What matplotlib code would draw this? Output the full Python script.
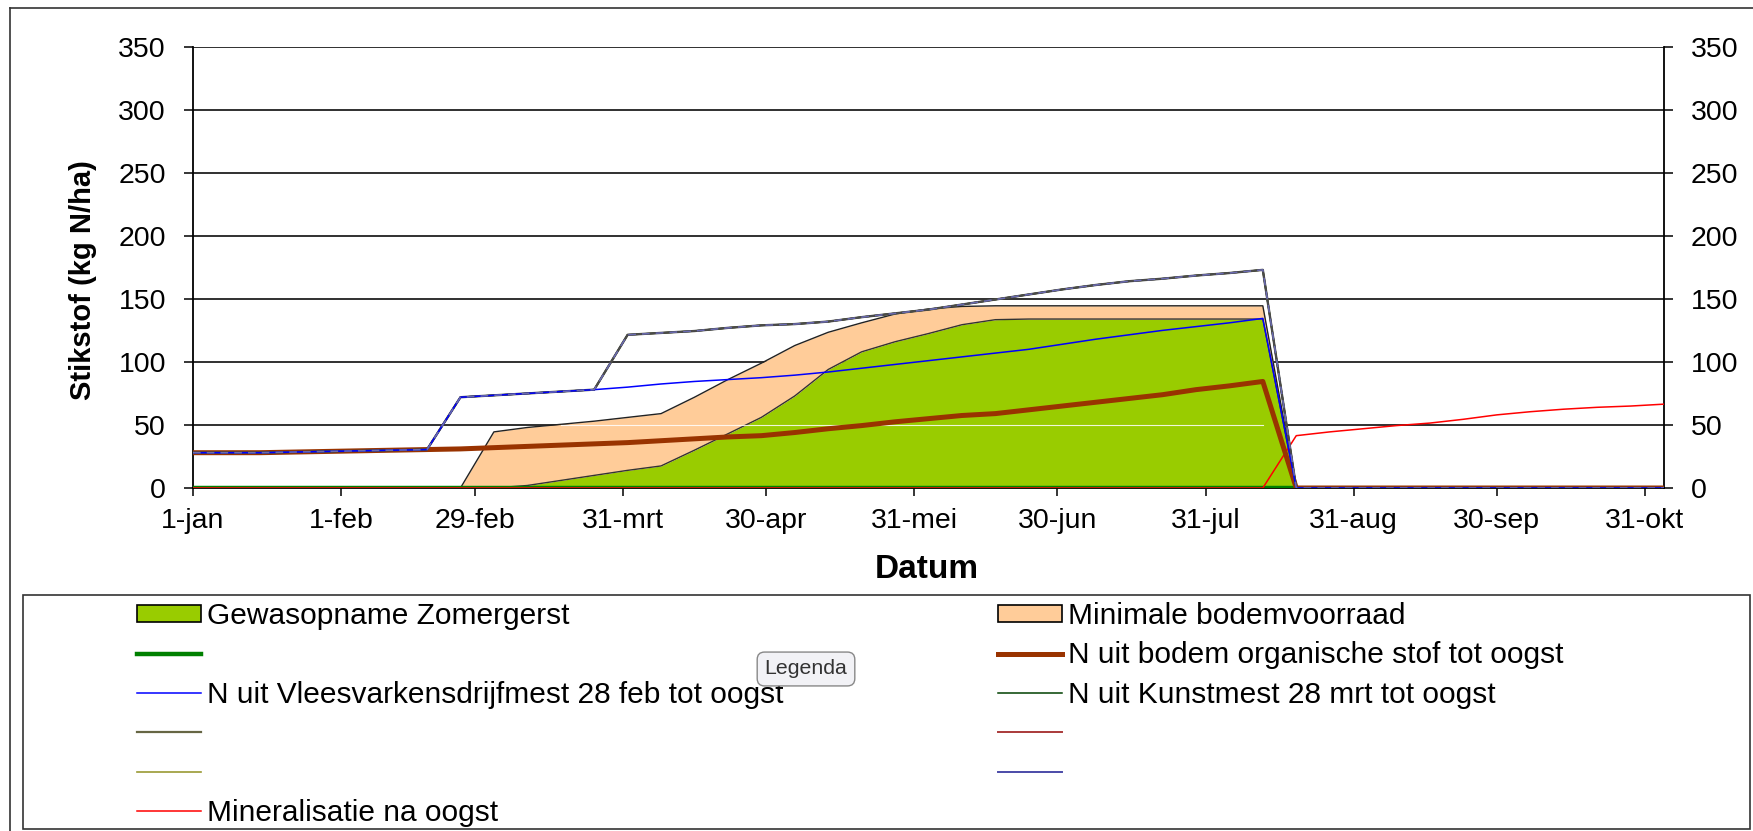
import matplotlib
matplotlib.use("Agg")
import matplotlib.pyplot as plt
from matplotlib.lines import Line2D
from matplotlib.patches import Patch
import numpy as np
import pandas as pd

# DATA (weekly points, 1 jan .. 4 nov 2008)
weeks = pd.date_range("2008-01-01", periods=45, freq="7D")

gewasopname = [0, 0, 0, 0, 0, 0, 0, 0, 0, 0,
               2, 6, 10, 14, 17.5, 30, 43, 56, 73, 94, 108, 116, 122.5, 129.5, 133.5,
               134, 134, 134, 134, 134, 134, 134, 134,
               0, 0, 0, 0, 0, 0, 0, 0, 0, 0, 0, 0]
min_bodemvoorraad = [0, 0, 0, 0, 0, 0, 0, 0, 0,
                     44.5, 46, 44.5, 43, 42, 41.5, 42, 43, 43, 40, 29.5, 23, 22, 19.5, 14.5, 11,
                     10.5, 10.5, 10.5, 10.5, 10.5, 10.5, 10.5, 10.5,
                     0, 0, 0, 0, 0, 0, 0, 0, 0, 0, 0, 0]
groen_lijn = [0] * 34 + [np.nan] * 11
bodem_os = [28, 28, 28, 28.5, 29, 29.5, 30, 30.5, 31, 32, 33, 34, 35, 36, 37.5, 39, 40.5,
            41.5, 44, 47, 49.5, 52.5, 55, 57.5, 59, 62, 65, 68, 71, 74, 78, 81, 84.5,
            0, 0, 0, 0, 0, 0, 0, 0, 0, 0, 0, 0]
drijfmest = [28, 28, 28, 28.5, 29, 29.5, 30, 30.5,
             72, 73.5, 75, 76.5, 78, 80, 82.5, 84.5, 86, 87.5, 89.5, 92, 95, 98, 101, 104,
             107, 110, 114, 118, 121.5, 125, 128, 131, 134.5,
             0, 0, 0, 0, 0, 0, 0, 0, 0, 0, 0, 0]
kunstmest = [28, 28, 28, 28.5, 29, 29.5, 30, 30.5, 72, 73.5, 75, 76.5, 78,
             121.5, 123, 124.5, 127, 129, 130, 132, 135.5, 138.5, 141.5, 145.5, 149.5,
             153.5, 157.5, 161, 164, 166, 168.5, 170.5, 173,
             0, 0, 0, 0, 0, 0, 0, 0, 0, 0, 0, 0]
mineralisatie = [0] * 33 + [41.5, 44.5, 47, 49.5, 51.5, 54.5, 58, 60.5, 62.5, 64, 65, 66.5]

tick_dates = pd.to_datetime(["2008-01-01", "2008-02-01", "2008-02-29", "2008-03-31",
                             "2008-04-30", "2008-05-31", "2008-06-30", "2008-07-31",
                             "2008-08-31", "2008-09-30", "2008-10-31"])
tick_labels = ["1-jan", "1-feb", "29-feb", "31-mrt", "30-apr", "31-mei", "30-jun",
               "31-jul", "31-aug", "30-sep", "31-okt"]
y_ticks = [0, 50, 100, 150, 200, 250, 300, 350]

# STYLE
W, H = 1753, 831
plt.rcParams['font.family'] = ['Liberation Sans', 'DejaVu Sans']

fig = plt.figure(figsize=(W / 100, H / 100), dpi=100)
ax = fig.add_axes([193 / W, 1 - 488 / H, (1664 - 193) / W, (488 - 46.7) / H])

gewas = np.array(gewasopname)
top = gewas + np.array(min_bodemvoorraad)

# AREAS
ax.fill_between(weeks, 0, gewas, color='#99CC00', lw=0, zorder=2)
ax.fill_between(weeks, gewas, top, color='#FFCC99', lw=0, zorder=2)
ax.plot(weeks, top, color='#222222', lw=1.0, zorder=2.2)
ax.plot(weeks, gewas, color='#333333', lw=1.0, zorder=2.2)
# light streak at 50 only where the areas cover the gridline
ax.plot(weeks, np.where(top >= 50, 50.0, np.nan), color='white', lw=0.8,
        alpha=0.85, zorder=2.3)

# LINES
ax.plot(weeks, groen_lijn, color='#008000', lw=3.2, zorder=3)
ax.plot(weeks, mineralisatie, color='#FF0000', lw=1.1, zorder=3.1)
ax.plot(weeks, bodem_os, color='#993300', lw=3.6, zorder=3.2)
ax.plot(weeks, kunstmest, color='#993333', lw=1.1, zorder=3.3)
ax.plot(weeks, kunstmest, color='#999933', lw=1.1, zorder=3.3)
ax.plot(weeks, kunstmest, color='#004000', lw=1.2, zorder=3.4)
ax.plot(weeks, kunstmest, color='#4a4a4a', lw=1.7, zorder=3.5)
ax.plot(weeks, drijfmest, color='#0000FF', lw=1.1, zorder=3.6)
ax.plot(weeks, kunstmest, color='#6a6ab0', lw=1.1, zorder=3.7, dashes=(5, 4))

# AXES
ax.set_xlim(weeks[0], weeks[-1])
ax.set_ylim(0, 350)
ax.set_yticks(y_ticks)
ax.set_xticks(tick_dates)
ax.set_xticklabels(tick_labels)
ax.yaxis.grid(True, color='#202020', lw=1.3, zorder=0)
ax.set_axisbelow(True)
ax.tick_params(axis='y', direction='out', length=6.5, width=1.1, pad=13,
               labelsize=20.5, right=True, labelright=True, colors='black')
ax.tick_params(axis='x', direction='out', length=5.5, width=1.1, pad=9,
               labelsize=20.5, colors='black')
for side in ['left', 'right', 'bottom']:
    ax.spines[side].set_color('black')
    ax.spines[side].set_linewidth(1.3)
ax.spines['top'].set_visible(False)

fig.text(83 / W, 1 - 280 / H, "Stikstof (kg N/ha)", rotation=90, ha='center', va='center',
         fontsize=21, fontweight='bold')
fig.text(927 / W, 1 - 570 / H, "Datum", ha='center', va='center',
         fontsize=24, fontweight='bold')

# BORDERS
fig.add_artist(Line2D([10 / W, 10 / W], [0, 1 - 8 / H], color='#333333', lw=1.2))
fig.add_artist(Line2D([10 / W, 1], [1 - 8 / H, 1 - 8 / H], color='#333333', lw=1.2))
fig.add_artist(plt.Rectangle((23 / W, 2 / H), (1750 - 23) / W, (829 - 595) / H,
                             transform=fig.transFigure, fill=False, ec='#333333', lw=1.2))

# LEGEND
col1 = [Patch(fc='#99CC00', ec='black', lw=1.2),
        Line2D([], [], color='#008000', lw=3.2),
        Line2D([], [], color='#0000FF', lw=1.1),
        Line2D([], [], color='#666644', lw=1.6),
        Line2D([], [], color='#999933', lw=1.2),
        Line2D([], [], color='#FF0000', lw=1.1)]
lab1 = ["Gewasopname Zomergerst", "", "N uit Vleesvarkensdrijfmest 28 feb tot oogst",
        "", "", "Mineralisatie na oogst"]
col2 = [Patch(fc='#FFCC99', ec='black', lw=1.2),
        Line2D([], [], color='#993300', lw=3.6),
        Line2D([], [], color='#004000', lw=1.1),
        Line2D([], [], color='#AA3A3A', lw=1.4),
        Line2D([], [], color='#4B4BA8', lw=1.4)]
lab2 = ["Minimale bodemvoorraad", "N uit bodem organische stof tot oogst",
        "N uit Kunstmest 28 mrt tot oogst", "", ""]
leg_kw = dict(loc='upper left', frameon=False, borderpad=0, borderaxespad=0,
              handlelength=2.15, handleheight=0.5, handletextpad=0.2, labelspacing=0.38,
              prop={'size': 21.5})
fig.legend(col1, lab1, bbox_to_anchor=(137 / W, 1 - 602 / H), **leg_kw)
fig.legend(col2, lab2, bbox_to_anchor=(998 / W, 1 - 602 / H), **leg_kw)

# tooltip sits on top of the legend text
fig.text(806 / W, 1 - 669 / H, "Legenda", ha='center', va='center', fontsize=15.3,
         color='#333333', zorder=10,
         bbox=dict(boxstyle='round,pad=0.35', fc='#f2f2f6', ec='#888888', lw=1))

fig.savefig("out.png", dpi=100)
